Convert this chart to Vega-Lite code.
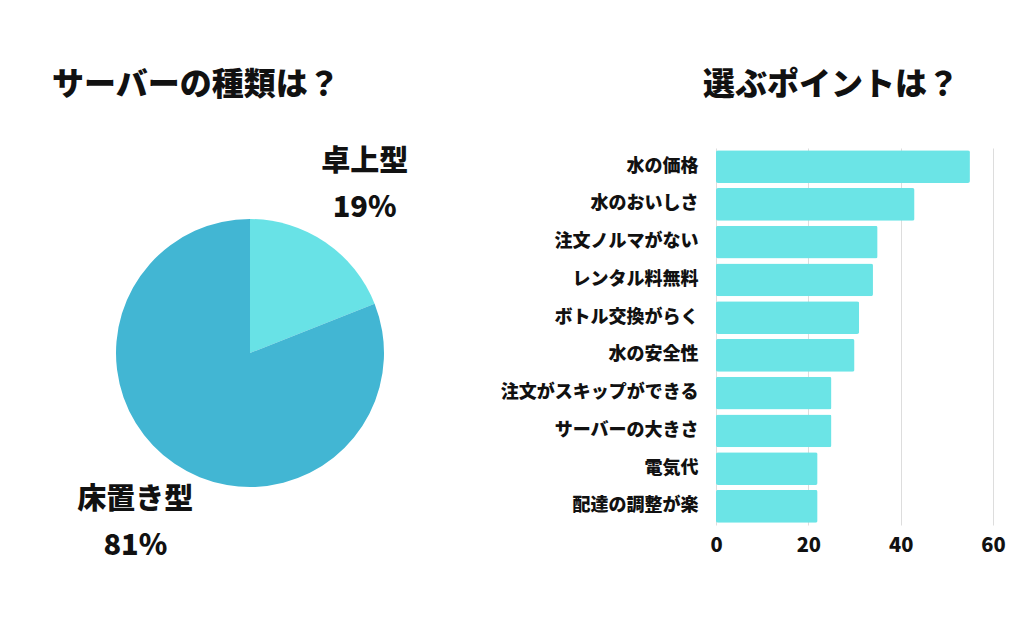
{
  "$schema": "https://vega.github.io/schema/vega-lite/v6.json",
  "background": "white",
  "padding": {"left": 0, "top": 69, "right": 0, "bottom": 30},
  "bounds": "flush",
  "spacing": 216,
  "config": {
    "font": "Noto Sans CJK JP",
    "view": {"stroke": null}
  },
  "datasets": {
    "types": [
      {"type": "卓上型", "share": 0.19},
      {"type": "床置き型", "share": 0.81}
    ],
    "points": [
      {"point": "水の価格", "count": 55},
      {"point": "水のおいしさ", "count": 43},
      {"point": "注文ノルマがない", "count": 35},
      {"point": "レンタル料無料", "count": 34},
      {"point": "ボトル交換がらく", "count": 31},
      {"point": "水の安全性", "count": 30},
      {"point": "注文がスキップができる", "count": 25},
      {"point": "サーバーの大きさ", "count": 25},
      {"point": "電気代", "count": 22},
      {"point": "配達の調整が楽", "count": 22}
    ]
  },
  "hconcat": [
    {
      "width": 500,
      "height": 410,
      "title": {
        "text": "サーバーの種類は？",
        "anchor": "start",
        "frame": "group",
        "dx": 52,
        "baseline": "bottom",
        "offset": 14,
        "fontSize": 32,
        "fontWeight": 900,
        "color": "#111111"
      },
      "data": {"name": "types"},
      "encoding": {
        "theta": {"field": "share", "type": "quantitative", "stack": true}
      },
      "layer": [
        {
          "mark": {"type": "arc", "outerRadius": 134},
          "encoding": {
            "color": {
              "field": "type",
              "type": "nominal",
              "scale": {"domain": ["卓上型", "床置き型"], "range": ["#68E2E6", "#42B6D3"]},
              "legend": null
            }
          }
        },
        {
          "mark": {"type": "text", "radius": 204, "dy": -22, "fontSize": 29, "fontWeight": 900, "color": "#111111", "align": "center", "baseline": "middle"},
          "encoding": {
            "detail": {"field": "type", "type": "nominal"},
            "text": {"field": "type", "type": "nominal"}
          }
        },
        {
          "mark": {"type": "text", "radius": 204, "dy": 24, "fontSize": 29, "fontWeight": 900, "color": "#111111", "align": "center", "baseline": "middle"},
          "encoding": {
            "detail": {"field": "type", "type": "nominal"},
            "text": {"field": "share", "type": "quantitative", "format": ".0%"}
          }
        }
      ]
    },
    {
      "width": 277,
      "height": 377,
      "title": {
        "text": "選ぶポイントは？",
        "anchor": "start",
        "frame": "group",
        "dx": -13,
        "baseline": "bottom",
        "offset": 14,
        "fontSize": 32,
        "fontWeight": 900,
        "color": "#111111"
      },
      "data": {"name": "points"},
      "mark": {"type": "bar", "color": "#6BE4E6", "cornerRadius": 2},
      "encoding": {
        "y": {
          "field": "point",
          "type": "nominal",
          "sort": null,
          "scale": {"paddingInner": 0.13, "paddingOuter": 0.06},
          "axis": {
            "title": null,
            "ticks": false,
            "domain": false,
            "grid": false,
            "labelFontSize": 18,
            "labelFontWeight": 900,
            "labelColor": "#111111",
            "labelPadding": 18,
            "labelLimit": 400
          }
        },
        "x": {
          "field": "count",
          "type": "quantitative",
          "scale": {"domain": [0, 60], "nice": false},
          "axis": {
            "title": null,
            "values": [0, 20, 40, 60],
            "ticks": false,
            "domain": false,
            "labelFontSize": 20,
            "labelFontWeight": 900,
            "labelColor": "#111111",
            "labelPadding": 10,
            "labelFlush": false,
            "gridColor": "#dddddd"
          }
        }
      }
    }
  ]
}
